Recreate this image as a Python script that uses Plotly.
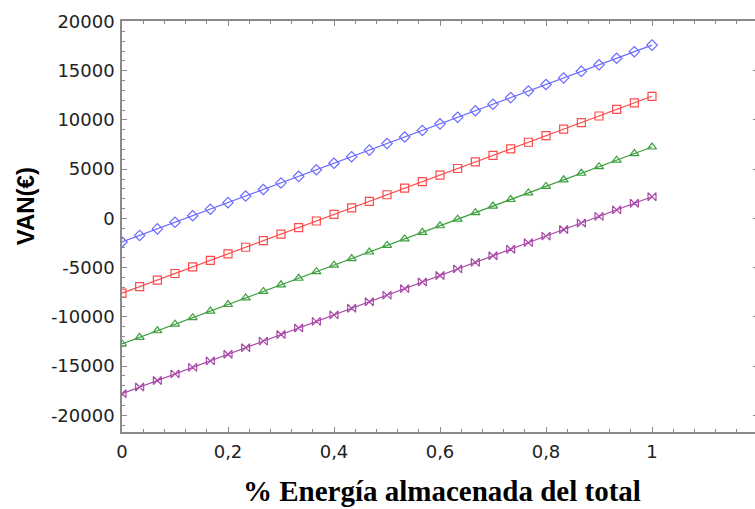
import plotly.graph_objects as go

x_frac = [0, 0.0333, 0.0667, 0.1, 0.1333, 0.1667, 0.2, 0.2333, 0.2667, 0.3,
          0.3333, 0.3667, 0.4, 0.4333, 0.4667, 0.5, 0.5333, 0.5667, 0.6, 0.6333,
          0.6667, 0.7, 0.7333, 0.7667, 0.8, 0.8333, 0.8667, 0.9, 0.9333, 0.9667, 1.0]

van_blue = [-2400, -1733, -1067, -400, 267, 933, 1600, 2267, 2933, 3600,
            4267, 4933, 5600, 6267, 6933, 7600, 8267, 8933, 9600, 10267,
            10933, 11600, 12267, 12933, 13600, 14267, 14933, 15600, 16267, 16933, 17600]
van_red = [-7600, -6933, -6267, -5600, -4933, -4267, -3600, -2933, -2267, -1600,
           -933, -267, 400, 1067, 1733, 2400, 3067, 3733, 4400, 5067,
           5733, 6400, 7067, 7733, 8400, 9067, 9733, 10400, 11067, 11733, 12400]
van_green = [-12750, -12083, -11417, -10750, -10083, -9417, -8750, -8083, -7417, -6750,
             -6083, -5417, -4750, -4083, -3417, -2750, -2083, -1417, -750, -83,
             583, 1250, 1917, 2583, 3250, 3917, 4583, 5250, 5917, 6583, 7250]
van_purple = [-17800, -17133, -16467, -15800, -15133, -14467, -13800, -13133, -12467, -11800,
              -11133, -10467, -9800, -9133, -8467, -7800, -7133, -6467, -5800, -5133,
              -4467, -3800, -3133, -2467, -1800, -1133, -467, 200, 867, 1533, 2200]

x_tickvals = [0, 0.2, 0.4, 0.6, 0.8, 1.0]
x_ticktext = ["0", "0,2", "0,4", "0,6", "0,8", "1"]
y_tickvals = [20000, 15000, 10000, 5000, 0, -5000, -10000, -15000, -20000]
y_ticktext = ["20000", "15000", "10000", "5000", "0", "-5000", "-10000", "-15000", "-20000"]

series = [
    (van_blue, "#6a6aff", "diamond-open"),
    (van_red, "#ff4a4a", "square-open"),
    (van_green, "#3fa03f", "triangle-up-open"),
    (van_purple, "#a84aa8", "bowtie-open"),
]

W, H = 760, 509
ML, MR, MT, MB = 122, 0, 21, 77

fig = go.Figure()
for vals, col, sym in series:
    fig.add_trace(go.Scatter(
        x=x_frac, y=vals, mode="lines+markers",
        line=dict(color=col, width=1.2),
        marker=dict(symbol=sym, size=8, color=col, line=dict(color=col, width=1.2)),
        showlegend=False,
    ))

axis_common = dict(
    showline=True, linecolor="#8a8a8a", linewidth=1.5, mirror="ticks",
    ticks="inside", ticklen=5, tickcolor="#8a8a8a", tickwidth=1,
    showgrid=False, zeroline=False,
    tickfont=dict(family="DejaVu Sans", size=18, color="#222222"),
)

fig.update_xaxes(
    range=[0, 1.2], tickvals=x_tickvals, ticktext=x_ticktext,
    minor=dict(dtick=0.04, tick0=0, ticks="inside", ticklen=3, tickcolor="#8a8a8a", showgrid=False),
    ticklabelstandoff=3,
    **axis_common,
)
fig.update_yaxes(
    range=[-21700, 20050], tickvals=y_tickvals, ticktext=y_ticktext,
    minor=dict(dtick=1000, tick0=0, ticks="inside", ticklen=3, tickcolor="#8a8a8a", showgrid=False),
    ticklabelstandoff=2,
    **axis_common,
)

fig.update_layout(
    width=W, height=H,
    margin=dict(l=ML, r=MR, t=MT, b=MB),
    plot_bgcolor="white", paper_bgcolor="white",
    annotations=[
        dict(text="<b>VAN(€)</b>", textangle=-90, x=25, y=206, xref="paper", yref="paper",
             showarrow=False, font=dict(family="Liberation Sans, Arial", size=24, color="black"),
             xanchor="center", yanchor="middle"),
        dict(text="<b>% Energía almacenada del total</b>", x=443, y=491, xref="paper", yref="paper",
             showarrow=False, font=dict(family="Liberation Serif, Times New Roman", size=29, color="black"),
             xanchor="center", yanchor="middle"),
    ],
)

# convert pixel annotation positions to paper coords
pw = W - ML - MR
ph = H - MT - MB
for a in fig.layout.annotations:
    px, py = a.x, a.y
    a.x = (px - ML) / pw
    a.y = (H - MB - py) / ph

fig.write_html(
    "out.html",
    config={"displayModeBar": False},
    post_script="document.body.style.margin='0';document.body.style.overflow='hidden';",
)
